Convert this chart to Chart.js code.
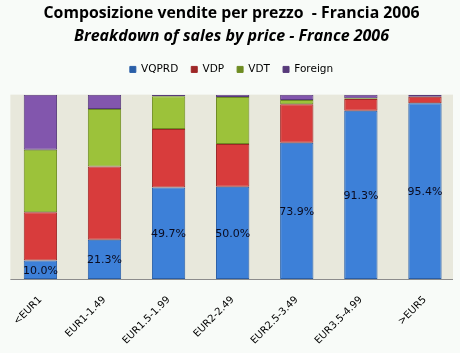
<!DOCTYPE html>
<html>
<head>
<meta charset="utf-8">
<script src="https://cdn.jsdelivr.net/npm/chart.js@4/dist/chart.umd.min.js"></script>
<style>
  html, body { margin: 0; padding: 0; background: #f8fbf8; }
  #wrap { width: 460px; height: 353px; }
</style>
</head>
<body>
<div id="wrap"><canvas id="chart"></canvas></div>
<script>
const categories = ["<EUR1", "EUR1-1.49", "EUR1.5-1.99", "EUR2-2.49", "EUR2.5-3.49", "EUR3.5-4.99", ">EUR5"];
const vqprd = [10.0, 21.3, 49.7, 50.0, 73.9, 91.3, 95.4];
const vdp = [26.2, 39.7, 31.7, 23.3, 20.9, 6.3, 3.4];
const vdt = [33.9, 31.2, 17.7, 25.4, 2.3, 0.5, 0.0];
const foreign = [29.9, 7.8, 0.9, 1.3, 2.9, 1.9, 1.2];

const colors = {
  vqprd: ["#3d80d8", "#2a5fa8"],
  vdp: ["#d83c3c", "#9e2727"],
  vdt: ["#9cc23a", "#6e8c22"],
  foreign: ["#8256ad", "#573a7a"]
};

function barFill(pair) {
  return function (ctx) {
    const el = ctx.element;
    if (!el || el.width === undefined) return pair[0];
    const g = ctx.chart.ctx.createLinearGradient(el.x - el.width / 2, 0, el.x + el.width / 2, 0);
    g.addColorStop(0, pair[1]);
    g.addColorStop(0.12, pair[0]);
    g.addColorStop(0.88, pair[0]);
    g.addColorStop(1, pair[1]);
    return g;
  };
}

function makeSet(label, data, pair) {
  return {
    label,
    data,
    backgroundColor: barFill(pair),
    borderColor: pair[1],
    borderWidth: 1,
    borderSkipped: false,
    categoryPercentage: 1,
    barPercentage: 0.52
  };
}

// plot background and bottom axis line, slightly inset like the original
const backgroundPlugin = {
  id: "bg",
  beforeDraw(chart) {
    const c = chart.ctx;
    const a = chart.chartArea;
    c.save();
    c.fillStyle = "#f8fbf8";
    c.fillRect(0, 0, chart.width, chart.height);
    c.fillStyle = "#e8e8dc";
    c.fillRect(a.left + 2, a.top, a.right - a.left - 6, a.bottom - a.top);
    c.strokeStyle = "#8c8c8c";
    c.lineWidth = 1;
    c.beginPath();
    c.moveTo(a.left + 2, a.bottom + 0.5);
    c.lineTo(a.right - 4, a.bottom + 0.5);
    c.stroke();
    c.restore();
  }
};

const legendSpacing = {
  id: "legendSpacing",
  beforeInit(chart) {
    const fit = chart.legend.fit;
    chart.legend.fit = function () {
      fit.bind(chart.legend)();
      this.height += 10;
    };
  }
};

const labelPlugin = {
  id: "blueLabels",
  afterDatasetsDraw(chart) {
    const c = chart.ctx;
    const meta = chart.getDatasetMeta(0);
    c.save();
    c.font = "11px 'DejaVu Sans'";
    c.fillStyle = "#0a0a1e";
    c.textAlign = "center";
    c.textBaseline = "middle";
    meta.data.forEach((bar, i) => {
      c.fillText(vqprd[i].toFixed(1) + "%", bar.x, (bar.y + bar.base) / 2 + 1);
    });
    c.restore();
  }
};

new Chart(document.getElementById("chart"), {
  type: "bar",
  data: {
    labels: categories,
    datasets: [
      makeSet("VQPRD", vqprd, colors.vqprd),
      makeSet("VDP", vdp, colors.vdp),
      makeSet("VDT", vdt, colors.vdt),
      makeSet("Foreign", foreign, colors.foreign)
    ]
  },
  options: {
    responsive: true,
    maintainAspectRatio: false,
    animation: false,
    layout: { padding: { left: 6, right: 3, top: 4, bottom: 0 } },
    plugins: {
      title: {
        display: true,
        text: "Composizione vendite per prezzo  - Francia 2006",
        color: "#000",
        font: { family: "'Open Sans'", size: 15.8, weight: "bold" },
        padding: { top: 0, bottom: 4 }
      },
      subtitle: {
        display: true,
        text: "Breakdown of sales by price - France 2006",
        color: "#000",
        font: { family: "'Open Sans'", size: 16, weight: "bold", style: "italic" },
        padding: { top: 0, bottom: 5 }
      },
      legend: {
        position: "top",
        labels: {
          boxWidth: 6,
          boxHeight: 6,
          color: "#000",
          font: { family: "'DejaVu Sans'", size: 10.5 },
          padding: 13
        }
      },
      tooltip: { enabled: false }
    },
    scales: {
      x: {
        stacked: true,
        grid: { display: false, drawTicks: false },
        border: { display: false },
        afterFit(scale) { scale.height = 74; },
        ticks: {
          color: "#000",
          font: { family: "'DejaVu Sans'", size: 10 },
          minRotation: 45,
          maxRotation: 45,
          padding: 15
        }
      },
      y: {
        stacked: true,
        min: 0,
        max: 100,
        display: false
      }
    }
  },
  plugins: [backgroundPlugin, legendSpacing, labelPlugin]
});
</script>
</body>
</html>
